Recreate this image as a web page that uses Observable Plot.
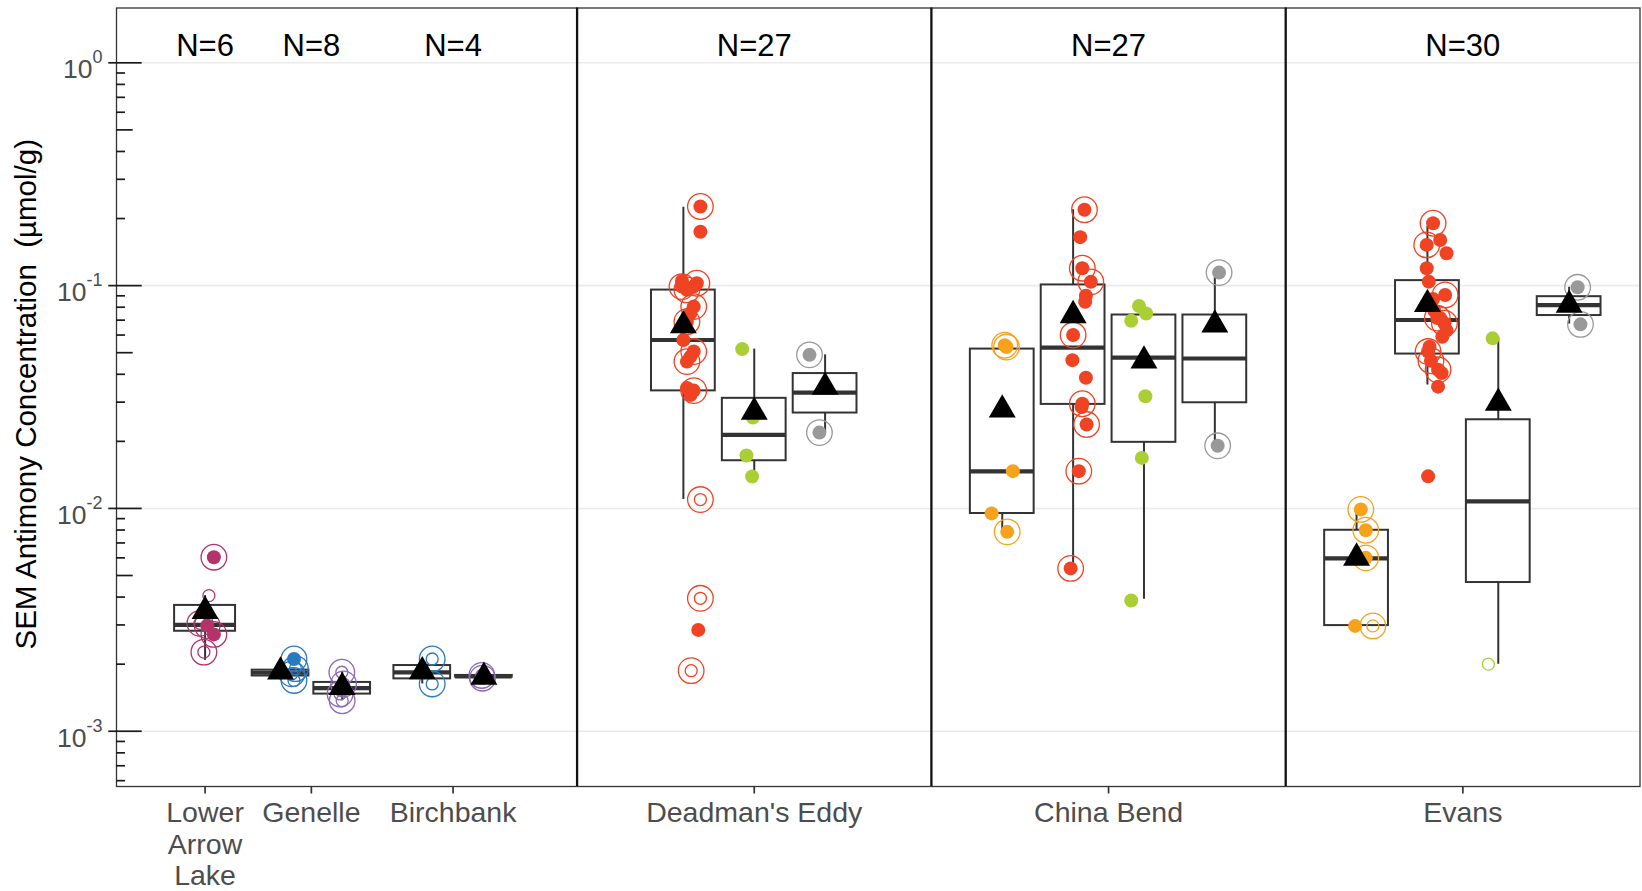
<!DOCTYPE html>
<html>
<head>
<meta charset="utf-8">
<script src="https://cdn.jsdelivr.net/npm/d3@7"></script>
<script src="https://cdn.jsdelivr.net/npm/@observablehq/plot@0.6"></script>
<style>
html,body{margin:0;padding:0;background:#fff}
svg{display:block}
</style>
</head>
<body>
<div id="chart"></div>
<script>
// ---------------- DATA ----------------
const sites = ["Lower Arrow Lake", "Genelle", "Birchbank", "Deadman's Eddy", "China Bend", "Evans"];
const siteLabels = ["Lower\nArrow\nLake", "Genelle", "Birchbank", "Deadman's Eddy", "China Bend", "Evans"];
const siteN = [6, 8, 4, 27, 27, 30];

// sample series (keys), and their colours
const groups = ["S-lake", "S-up1", "S-up2", "S-1", "S-2", "S-3", "S-4"];
const groupColors = ["#B4336A", "#2A7AC1", "#8A68B5", "#F7A21B", "#EF4323", "#AACF34", "#999999"];

// box statistics (whisker low, Q1, median, Q3, whisker high, mean)
const boxSite  = ["Lower Arrow Lake","Genelle","Genelle","Birchbank","Birchbank",
                  "Deadman's Eddy","Deadman's Eddy","Deadman's Eddy",
                  "China Bend","China Bend","China Bend","China Bend",
                  "Evans","Evans","Evans","Evans"];
const boxGroup = ["S-lake","S-up1","S-up2","S-up1","S-up2",
                  "S-2","S-3","S-4",
                  "S-1","S-2","S-3","S-4",
                  "S-1","S-2","S-3","S-4"];
const boxLo   = [0.00208, 0.00170, 0.00137, 0.00163, 0.00172, 0.01096, 0.0139, 0.0219, 0.00785, 0.00542, 0.00391, 0.0191, 0.00298, 0.0358, 0.0020, 0.0672];
const boxQ1   = [0.00281, 0.00177, 0.001468, 0.001718, 0.00175, 0.0337, 0.01637, 0.0268, 0.00949, 0.0293, 0.0198, 0.0298, 0.00298, 0.0493, 0.00465, 0.0734];
const boxMed  = [0.00300, 0.00183, 0.001563, 0.001836, 0.001763, 0.0570, 0.0214, 0.0331, 0.01468, 0.0527, 0.0475, 0.0471, 0.00597, 0.0701, 0.01076, 0.0818];
const boxQ3   = [0.00367, 0.00188, 0.001656, 0.001972, 0.00178, 0.0955, 0.0312, 0.0403, 0.0519, 0.1007, 0.0738, 0.0738, 0.00798, 0.1053, 0.0250, 0.0892];
const boxHi   = [0.00406, 0.00211, 0.00184, 0.00211, 0.00178, 0.225, 0.0519, 0.0489, 0.054, 0.219, 0.081, 0.1144, 0.0099, 0.184, 0.058, 0.0983];
const boxMean = [0.00346, 0.00185, 0.001578, 0.001854, 0.00175, 0.0662, 0.0271, 0.0351, 0.0277, 0.0735, 0.046, 0.0667, 0.0060, 0.0825, 0.0297, 0.0819];

// individual samples: site, series, value, jitter (in category units), marker
// marker: F filled, FR filled + ring, O open, OR open + ring
const pointRows = [
  ["Lower Arrow Lake","S-lake",0.00604,0.124,"FR"],
  ["Lower Arrow Lake","S-lake",0.00406,0.054,"O"],
  ["Lower Arrow Lake","S-lake",0.00305,-0.073,"OR"],
  ["Lower Arrow Lake","S-lake",0.00298,0.03,"FR"],
  ["Lower Arrow Lake","S-lake",0.00272,0.124,"FR"],
  ["Lower Arrow Lake","S-lake",0.002265,-0.017,"OR"],

  ["Genelle","S-up1",0.00211,0.19,"FR"],
  ["Genelle","S-up1",0.00191,0.21,"OR"],
  ["Genelle","S-up1",0.00181,0.16,"OR"],
  ["Genelle","S-up1",0.00169,0.19,"OR"],
  ["Genelle","S-up2",0.00184,-0.005,"OR"],
  ["Genelle","S-up2",0.00163,0.02,"OR"],
  ["Genelle","S-up2",0.00147,-0.03,"OR"],
  ["Genelle","S-up2",0.00137,0.0,"OR"],

  ["Birchbank","S-up1",0.00211,0.14,"OR"],
  ["Birchbank","S-up1",0.00163,0.14,"OR"],
  ["Birchbank","S-up2",0.00178,-0.03,"OR"],
  ["Birchbank","S-up2",0.00173,-0.02,"OR"],

  ["Deadman's Eddy","S-2",0.2265,0.24,"FR"],
  ["Deadman's Eddy","S-2",0.1746,0.24,"F"],
  ["Deadman's Eddy","S-2",0.105,-0.02,"F"],
  ["Deadman's Eddy","S-2",0.099,-0.02,"FR"],
  ["Deadman's Eddy","S-2",0.1025,0.19,"FR"],
  ["Deadman's Eddy","S-2",0.099,0.14,"F"],
  ["Deadman's Eddy","S-2",0.0957,0.05,"FR"],
  ["Deadman's Eddy","S-2",0.0805,0.146,"FR"],
  ["Deadman's Eddy","S-2",0.0752,0.10,"F"],
  ["Deadman's Eddy","S-2",0.0689,0.05,"FR"],
  ["Deadman's Eddy","S-2",0.057,0.0,"F"],
  ["Deadman's Eddy","S-2",0.0506,0.146,"FR"],
  ["Deadman's Eddy","S-2",0.048,0.10,"F"],
  ["Deadman's Eddy","S-2",0.0456,0.05,"FR"],
  ["Deadman's Eddy","S-2",0.0347,0.05,"F"],
  ["Deadman's Eddy","S-2",0.0338,0.146,"FR"],
  ["Deadman's Eddy","S-2",0.0323,0.10,"F"],
  ["Deadman's Eddy","S-2",0.01096,0.24,"OR"],
  ["Deadman's Eddy","S-2",0.00395,0.24,"OR"],
  ["Deadman's Eddy","S-2",0.00285,0.21,"F"],
  ["Deadman's Eddy","S-2",0.00187,0.11,"OR"],
  ["Deadman's Eddy","S-3",0.0519,-0.17,"F"],
  ["Deadman's Eddy","S-3",0.0256,-0.02,"F"],
  ["Deadman's Eddy","S-3",0.0173,-0.11,"F"],
  ["Deadman's Eddy","S-3",0.0139,-0.03,"F"],
  ["Deadman's Eddy","S-4",0.0489,-0.22,"FR"],
  ["Deadman's Eddy","S-4",0.0219,-0.08,"FR"],

  ["China Bend","S-1",0.054,0.035,"FR"],
  ["China Bend","S-1",0.053,0.06,"FR"],
  ["China Bend","S-1",0.0147,0.15,"F"],
  ["China Bend","S-1",0.0095,-0.15,"F"],
  ["China Bend","S-1",0.00785,0.07,"FR"],
  ["China Bend","S-2",0.219,0.16,"FR"],
  ["China Bend","S-2",0.165,0.10,"F"],
  ["China Bend","S-2",0.1197,0.13,"FR"],
  ["China Bend","S-2",0.104,0.25,"FR"],
  ["China Bend","S-2",0.0901,0.18,"F"],
  ["China Bend","S-2",0.0847,0.17,"F"],
  ["China Bend","S-2",0.060,0.0,"FR"],
  ["China Bend","S-2",0.0463,-0.01,"F"],
  ["China Bend","S-2",0.0386,0.18,"F"],
  ["China Bend","S-2",0.0295,0.13,"FR"],
  ["China Bend","S-2",0.0285,0.12,"F"],
  ["China Bend","S-2",0.0238,0.19,"FR"],
  ["China Bend","S-2",0.0147,0.08,"FR"],
  ["China Bend","S-2",0.00538,-0.035,"FR"],
  ["China Bend","S-3",0.081,-0.07,"F"],
  ["China Bend","S-3",0.075,0.03,"F"],
  ["China Bend","S-3",0.0695,-0.18,"F"],
  ["China Bend","S-3",0.0319,0.02,"F"],
  ["China Bend","S-3",0.01686,-0.03,"F"],
  ["China Bend","S-3",0.00386,-0.18,"F"],
  ["China Bend","S-4",0.1144,0.06,"FR"],
  ["China Bend","S-4",0.0191,0.04,"FR"],

  ["Evans","S-1",0.0099,0.06,"FR"],
  ["Evans","S-1",0.00798,0.13,"FR"],
  ["Evans","S-1",0.0060,0.13,"FR"],
  ["Evans","S-1",0.00297,-0.02,"F"],
  ["Evans","S-1",0.00297,0.23,"OR"],
  ["Evans","S-2",0.1905,0.08,"FR"],
  ["Evans","S-2",0.1603,0.18,"F"],
  ["Evans","S-2",0.1523,-0.01,"FR"],
  ["Evans","S-2",0.1397,0.27,"F"],
  ["Evans","S-2",0.1196,-0.01,"F"],
  ["Evans","S-2",0.1042,0.02,"F"],
  ["Evans","S-2",0.0908,0.25,"FR"],
  ["Evans","S-2",0.087,0.08,"F"],
  ["Evans","S-2",0.077,0.10,"F"],
  ["Evans","S-2",0.0715,0.14,"FR"],
  ["Evans","S-2",0.0715,0.18,"F"],
  ["Evans","S-2",0.0678,0.24,"FR"],
  ["Evans","S-2",0.063,0.27,"F"],
  ["Evans","S-2",0.059,0.21,"F"],
  ["Evans","S-2",0.0532,0.03,"F"],
  ["Evans","S-2",0.0506,0.01,"FR"],
  ["Evans","S-2",0.046,0.05,"FR"],
  ["Evans","S-2",0.0419,0.15,"FR"],
  ["Evans","S-2",0.0405,0.20,"F"],
  ["Evans","S-2",0.0352,0.15,"F"],
  ["Evans","S-2",0.01393,0.01,"F"],
  ["Evans","S-3",0.058,-0.08,"F"],
  ["Evans","S-3",0.0020,-0.14,"O"],
  ["Evans","S-4",0.0983,0.12,"FR"],
  ["Evans","S-4",0.067,0.16,"FR"]
];

const yMajor = [1, 0.1, 0.01, 0.001];
const yTitle = "SEM Antimony Concentration\u00A0\u00A0(\u00B5mol/g)";

// ---------------- LAYOUT (category slots) ----------------
const panelWidth = [6.5, 5, 5, 5];
const sitePanel = [0, 0, 0, 1, 2, 3];
const siteOffset = [1.25, 2.75, 4.75, 2.5, 2.5, 2.5];
const panelStart = panelWidth.map((w, i) => d3.sum(panelWidth.slice(0, i)));
const totalWidth = d3.sum(panelWidth);
const siteCenter = new Map(sites.map((s, i) => [s, panelStart[sitePanel[i]] + siteOffset[i]]));
const dividers = panelStart.slice(1);

const boxes = boxSite.map((s, i) => ({
  site: s, group: boxGroup[i], lo: boxLo[i], q1: boxQ1[i], med: boxMed[i],
  q3: boxQ3[i], hi: boxHi[i], mean: boxMean[i]
}));
boxes.forEach(b => {
  const same = boxes.filter(o => o.site === b.site);
  const n = same.length, i = same.indexOf(b);
  const first = sitePanel[sites.indexOf(b.site)] === 0;
  const step = first ? 0.87 : 1;
  b.x = siteCenter.get(b.site) + (i - (n - 1) / 2) * step;
  b.w = first ? (n === 1 ? 0.86 : 0.8) : 0.9;
});
const points = pointRows.map(([site, group, value, jitter, marker]) => {
  const b = boxes.find(o => o.site === site && o.group === group);
  return {site, group, value, x: b.x + jitter, filled: marker[0] === "F", ring: marker.length > 1};
});

const siteTicks = sites.map((s, i) => ({pos: siteCenter.get(s), label: siteLabels[i], n: "N=" + siteN[i]}));
const labelByPos = new Map(siteTicks.map(d => [d.pos, d.label]));

const yDomain = [Math.pow(10, -3.248), Math.pow(10, 0.246)];
const minorTicks = [], midTicks = [];
for (let e = -4; e <= 0; e++) {
  for (let m = 2; m <= 9; m++) {
    const v = m * Math.pow(10, e);
    if (v >= yDomain[0] && v <= yDomain[1]) (m === 5 ? midTicks : minorTicks).push(v);
  }
}

// ---------------- PLOT ----------------
const chart = Plot.plot({
  width: 1642,
  height: 891,
  marginLeft: 116,
  marginRight: 2.5,
  marginTop: 7.5,
  marginBottom: 105,
  style: {fontFamily: "'Liberation Sans', Arial, Helvetica, sans-serif", background: "white"},
  x: {domain: [0, totalWidth], label: null},
  y: {type: "log", domain: yDomain, label: null},
  color: {type: "ordinal", domain: groups, range: groupColors},
  marks: [
    Plot.ruleY(yMajor, {stroke: "#EBEBEB", strokeWidth: 1.6}),
    // whiskers
    Plot.ruleX(boxes, {x: "x", y1: "lo", y2: "hi", stroke: "#333333", strokeWidth: 2}),
    // boxes
    Plot.rect(boxes, {x1: d => d.x - d.w / 2, x2: d => d.x + d.w / 2, y1: "q1", y2: "q3",
      fill: "white", stroke: "#333333", strokeWidth: 2}),
    // medians
    Plot.ruleY(boxes, {y: "med", x1: d => d.x - d.w / 2, x2: d => d.x + d.w / 2,
      stroke: "#333333", strokeWidth: 4.2}),
    // samples
    Plot.dot(points.filter(d => d.filled), {x: "x", y: "value", fill: "group", r: 7}),
    Plot.dot(points.filter(d => !d.filled), {x: "x", y: "value", stroke: "group", fill: "none", r: 6, strokeWidth: 1.3}),
    Plot.dot(points.filter(d => d.ring), {x: "x", y: "value", stroke: "group", fill: "none", r: 12.8, strokeWidth: 1.3}),
    // means
    Plot.dot(boxes, {x: "x", y: "mean", symbol: "triangle", r: 10, fill: "black", stroke: "none"}),
    // panel borders
    Plot.frame({stroke: "#333333", strokeWidth: 1.3}),
    Plot.ruleX(dividers, {stroke: "#111111", strokeWidth: 2.3}),
    // y axis: outer ticks + labels
    Plot.axisY({ticks: yMajor, tickSize: 7.7, stroke: "#1a1a1a", strokeWidth: 1.7, fill: "none", label: null}),
    Plot.axisY({ticks: yMajor, tickSize: 0, tickPadding: 14, dy: 7, fill: "#4D4D4D", fontSize: 26.5,
      tickFormat: d => "10^" + Math.round(Math.log10(d)), label: null}),
    // inner log ticks
    Plot.axisY({ticks: yMajor, tickSize: -25.7, stroke: "#1a1a1a", strokeWidth: 1.7, fill: "none", label: null}),
    Plot.axisY({ticks: midTicks, tickSize: -16.7, stroke: "#1a1a1a", strokeWidth: 1.7, fill: "none", label: null}),
    Plot.axisY({ticks: minorTicks, tickSize: -9, stroke: "#1a1a1a", strokeWidth: 1.7, fill: "none", label: null}),
    // x axis
    Plot.axisX({ticks: siteTicks.map(d => d.pos), tickSize: 7.5, tickPadding: 6, stroke: "#333333", strokeWidth: 1.7,
      fill: "#4D4D4D", fontSize: 28.5, lineHeight: 1.1, tickFormat: d => labelByPos.get(d), label: null}),
    // N labels
    Plot.text(siteTicks, {x: "pos", text: "n", frameAnchor: "top", lineAnchor: "top", dy: 26, fontSize: 31, fill: "black"}),
    // y title
    Plot.text([yTitle], {frameAnchor: "left", textAnchor: "middle", dx: -90, dy: -3, rotate: -90, fontSize: 29.5, fill: "black"})
  ]
});

// superscript exponents for the log axis labels
chart.querySelectorAll("text").forEach(t => {
  const m = /^10\^(-?\d+)$/.exec(t.textContent);
  if (!m) return;
  t.textContent = "10";
  const sup = document.createElementNS("http://www.w3.org/2000/svg", "tspan");
  sup.setAttribute("dy", "-15");
  sup.setAttribute("font-size", "18");
  sup.textContent = m[1];
  t.appendChild(sup);
});

document.getElementById("chart").appendChild(chart);
</script>
</body>
</html>
